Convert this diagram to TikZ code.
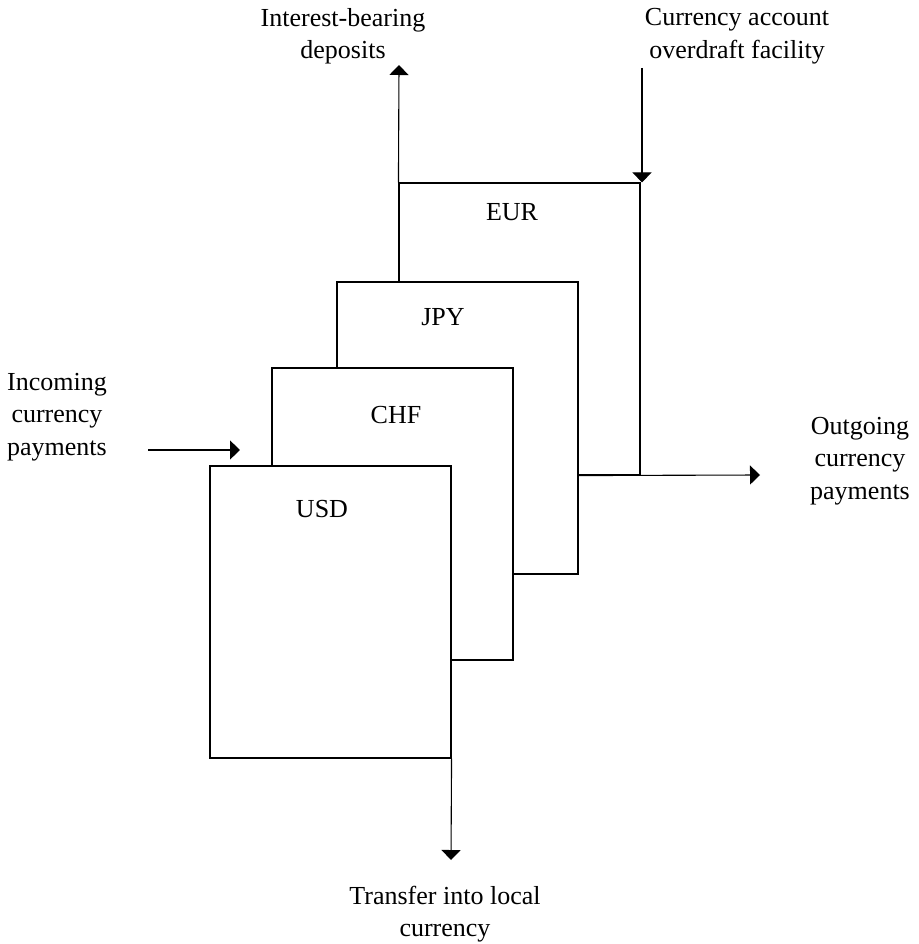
\documentclass[tikz,border=0pt]{standalone}
\usepackage{fontspec}
\setmainfont{Liberation Serif}
\usetikzlibrary{arrows.meta}
\begin{document}
\begin{tikzpicture}[x=1pt,y=-1pt,
  every node/.style={font=\fontsize{26}{32.5}\selectfont},
  acct/.style={draw,fill=white,line width=1.1pt,minimum width=241pt,minimum height=292pt,inner sep=0pt},
  lbl/.style={align=center,inner sep=0pt},
  arr/.style={line width=1.1pt,-{Triangle[width=19pt,length=10pt]}},
  ln/.style={line width=1.1pt}]
\useasboundingbox (0,0) rectangle (918,944);
% boxes, back to front
\node[acct] (eur) at (519.5,329) {};
\node[acct] (jpy) at (457.5,428) {};
\node[acct] (chf) at (392.5,514) {};
\node[acct] (usd) at (330.5,612) {};
% box labels
\node[lbl] (eurl) at (512,212) {EUR};
\node[lbl] (jpyl) at (443,317) {JPY};
\node[lbl] (chfl) at (396,415) {CHF};
\node[lbl] (usdl) at (322,509) {USD};
% outer labels
\node[lbl] (intl) at (343,36) {Interest-bearing\\deposits};
\node[lbl] (odl) at (737,36) {Currency account\\overdraft facility};
\node[lbl] (inl) at (57,417) {Incoming\\currency\\payments};
\node[lbl] (outl) at (860,461) {Outgoing\\currency\\payments};
\node[lbl] (trl) at (445,914) {Transfer into local\\currency};
% free ends
\coordinate (intTip) at (399,65);
\coordinate (odStart) at (642,68);
\coordinate (inStart) at (148,450);
\coordinate (inTip) at (240,450);
\coordinate (outTip) at (760,475);
\coordinate (trTip) at (451,860);
% connectors
\draw[arr] (eur.north west) -- (intTip);
\draw[arr] (odStart) -- (odStart |- eur.north);
\draw[arr] (inStart) -- (inTip);
\draw[arr] (jpy.east |- eur.south) -- (outTip);
\draw[arr] (usd.south east) -- (trTip);
\end{tikzpicture}
\end{document}
